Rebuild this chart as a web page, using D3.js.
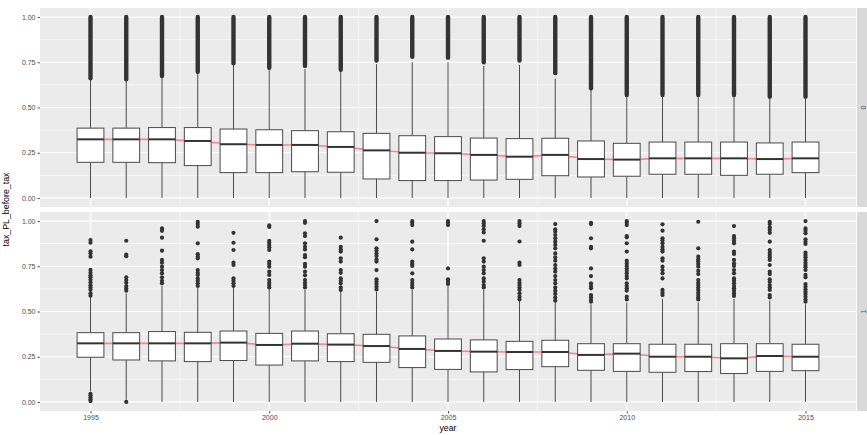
<!DOCTYPE html>
<html>
<head>
<meta charset="utf-8">
<script src="https://cdn.jsdelivr.net/npm/d3@7"></script>
<style>
  html, body { margin: 0; padding: 0; background: #fff; }
  svg { display: block; font-family: "Liberation Sans", Arial, sans-serif; }
</style>
</head>
<body>
<svg id="chart" width="867" height="435"></svg>
<script>
// ---- data -------------------------------------------------------------
const years = [1995, 1996, 1997, 1998, 1999, 2000, 2001, 2002, 2003, 2004, 2005,
               2006, 2007, 2008, 2009, 2010, 2011, 2012, 2013, 2014, 2015];
const facetLabels = ["0", "1"];
const yTicks = [0, 0.25, 0.5, 0.75, 1];
const yTickLabels = ["0.00", "0.25", "0.50", "0.75", "1.00"];
const xTicks = [1995, 2000, 2005, 2010, 2015];

// facet "0"
const q1_0  = [0.197, 0.197, 0.195, 0.179, 0.140, 0.140, 0.145, 0.142, 0.105, 0.096, 0.096,
               0.099, 0.103, 0.123, 0.116, 0.120, 0.131, 0.131, 0.125, 0.131, 0.140];
const med_0 = [0.324, 0.324, 0.324, 0.315, 0.297, 0.293, 0.293, 0.282, 0.263, 0.250, 0.247,
               0.238, 0.228, 0.238, 0.215, 0.212, 0.219, 0.219, 0.219, 0.215, 0.219];
const q3_0  = [0.386, 0.386, 0.389, 0.389, 0.381, 0.377, 0.372, 0.366, 0.357, 0.344, 0.339,
               0.331, 0.328, 0.330, 0.315, 0.302, 0.309, 0.309, 0.309, 0.304, 0.309];
const lo_0  = [0, 0, 0, 0, 0, 0, 0, 0, 0, 0, 0, 0, 0, 0, 0, 0, 0, 0, 0, 0, 0];
const hi_0  = [0.655, 0.650, 0.668, 0.692, 0.738, 0.714, 0.712, 0.700, 0.740, 0.750, 0.750,
               0.730, 0.735, 0.660, 0.600, 0.563, 0.563, 0.563, 0.563, 0.555, 0.555];
// dense outlier runs: from value up to the maximum
const outFrom_0 = [0.661, 0.656, 0.674, 0.698, 0.744, 0.720, 0.730, 0.708, 0.760, 0.780, 0.775,
                   0.750, 0.760, 0.690, 0.606, 0.569, 0.569, 0.569, 0.569, 0.560, 0.560];
const outTo_0   = [1, 1, 1, 1, 1, 1, 1, 1, 1, 1, 1, 1, 1, 1, 1, 1, 1, 1, 1, 1, 1];

// facet "1"
const q1_1  = [0.247, 0.232, 0.227, 0.223, 0.229, 0.204, 0.227, 0.223, 0.219, 0.190, 0.180,
               0.166, 0.179, 0.195, 0.175, 0.169, 0.164, 0.168, 0.157, 0.169, 0.173];
const med_1 = [0.324, 0.324, 0.324, 0.324, 0.328, 0.315, 0.322, 0.317, 0.309, 0.293, 0.282,
               0.278, 0.276, 0.276, 0.260, 0.267, 0.250, 0.250, 0.241, 0.254, 0.250];
const q3_1  = [0.383, 0.383, 0.389, 0.385, 0.392, 0.379, 0.392, 0.377, 0.374, 0.365, 0.348,
               0.343, 0.335, 0.341, 0.322, 0.322, 0.319, 0.319, 0.322, 0.322, 0.319];
const lo_1  = [0.057, 0.012, 0, 0, 0, 0, 0, 0, 0, 0, 0, 0, 0, 0, 0, 0, 0, 0, 0, 0, 0];
const hi_1  = [0.58, 0.60, 0.64, 0.63, 0.63, 0.63, 0.62, 0.61, 0.61, 0.62, 0.64,
               0.62, 0.56, 0.55, 0.54, 0.55, 0.57, 0.55, 0.57, 0.56, 0.54];
const out_1 = [
  [0.895, 0.88, 0.832, 0.82, 0.803, 0.73, 0.714, 0.70, 0.69, 0.675, 0.66, 0.645, 0.633, 0.62, 0.60, 0.587,
   0.045, 0.035, 0.025, 0.015, 0.005],
  [0.891, 0.815, 0.806, 0.689, 0.674, 0.659, 0.641, 0.628, 0.615, 0.0],
  [0.959, 0.946, 0.908, 0.836, 0.785, 0.770, 0.748, 0.729, 0.711, 0.689, 0.670, 0.656],
  [0.996, 0.983, 0.969, 0.877, 0.817, 0.803, 0.794, 0.729, 0.714, 0.702, 0.683, 0.670, 0.656, 0.641],
  [0.935, 0.880, 0.840, 0.770, 0.757, 0.683, 0.670, 0.656, 0.641],
  [0.976, 0.967, 0.891, 0.880, 0.867, 0.855, 0.840, 0.776, 0.763, 0.748, 0.720, 0.702, 0.674, 0.659, 0.646, 0.633],
  [1.0, 0.99, 0.932, 0.917, 0.877, 0.858, 0.843, 0.812, 0.800, 0.763, 0.748, 0.720, 0.700, 0.674, 0.659, 0.646, 0.633],
  [0.908, 0.858, 0.843, 0.831, 0.794, 0.776, 0.729, 0.714, 0.683, 0.670, 0.656, 0.633, 0.619],
  [1.0, 0.899, 0.849, 0.836, 0.821, 0.807, 0.788, 0.776, 0.729, 0.678, 0.665, 0.652, 0.637, 0.622],
  [1.0, 0.99, 0.978, 0.886, 0.843, 0.776, 0.763, 0.752, 0.711, 0.674, 0.659, 0.646, 0.633],
  [1.0, 0.99, 0.978, 0.738, 0.678, 0.665, 0.652],
  [1.0, 0.987, 0.972, 0.954, 0.937, 0.891, 0.794, 0.776, 0.748, 0.729, 0.711, 0.683, 0.665, 0.646, 0.633],
  [1.0, 0.987, 0.972, 0.887, 0.770, 0.757, 0.674, 0.659, 0.646, 0.633, 0.619, 0.600, 0.582, 0.567],
  [0.983, 0.954, 0.941, 0.923, 0.905, 0.886, 0.868, 0.849, 0.821, 0.800, 0.781, 0.757, 0.738, 0.720,
   0.696, 0.674, 0.656, 0.633, 0.615, 0.597, 0.578, 0.560],
  [0.99, 0.983, 0.905, 0.858, 0.849, 0.738, 0.696, 0.656, 0.641, 0.628, 0.591, 0.578, 0.563, 0.554],
  [1.0, 0.99, 0.978, 0.917, 0.910, 0.877, 0.831, 0.781, 0.766, 0.752, 0.738, 0.725, 0.711, 0.696, 0.683,
   0.656, 0.641, 0.628, 0.615, 0.582, 0.567],
  [0.982, 0.947, 0.905, 0.892, 0.877, 0.858, 0.843, 0.831, 0.794, 0.781, 0.748, 0.729, 0.711, 0.683,
   0.619, 0.604, 0.591],
  [0.996, 0.849, 0.803, 0.788, 0.776, 0.763, 0.748, 0.725, 0.707, 0.674, 0.659, 0.646, 0.633, 0.619,
   0.604, 0.591, 0.578, 0.567],
  [0.972, 0.917, 0.905, 0.891, 0.877, 0.831, 0.818, 0.785, 0.766, 0.752, 0.729, 0.711, 0.683, 0.670,
   0.656, 0.641, 0.628, 0.615, 0.600, 0.586],
  [0.996, 0.983, 0.965, 0.950, 0.935, 0.886, 0.840, 0.825, 0.812, 0.800, 0.785, 0.757, 0.720, 0.707,
   0.678, 0.665, 0.646, 0.633, 0.619, 0.591, 0.578],
  [1.0, 0.959, 0.947, 0.932, 0.899, 0.886, 0.873, 0.825, 0.812, 0.800, 0.785, 0.770, 0.757, 0.745, 0.729,
   0.702, 0.689, 0.652, 0.637, 0.622, 0.609, 0.597, 0.582, 0.567, 0.554]
];

// ---- layout -----------------------------------------------------------
const svg = d3.select("#chart");
const panelX0 = 40, panelX1 = 856;
const panels = [
  { top: 8,   bottom: 207, label: facetLabels[0] },
  { top: 212, bottom: 411, label: facetLabels[1] }
];
const stripW = 11;
const boxWidth = 0.75; // in years

const x = d3.scaleLinear()
  .domain([years[0] - boxWidth / 2 - 1.0375, years[years.length - 1] + boxWidth / 2 + 1.0375])
  .range([panelX0, panelX1]);
const minorX = d3.range(years[0] - 2.5, years[years.length - 1] + 5, 5);
const minorY = [0.125, 0.375, 0.625, 0.875];

const colBox = "#4a4a4a";
const colPt = "#333333";

function drawPanel(p, d) {
  const y = d3.scaleLinear().domain([-0.05, 1.05]).range([p.bottom, p.top]);
  const g = svg.append("g");

  // background
  g.append("rect").attr("x", panelX0).attr("y", p.top)
    .attr("width", panelX1 - panelX0).attr("height", p.bottom - p.top)
    .attr("fill", "#EBEBEB");

  // grid
  g.selectAll(".gyMinor").data(minorY).join("line")
    .attr("x1", panelX0).attr("x2", panelX1)
    .attr("y1", v => y(v)).attr("y2", v => y(v))
    .attr("stroke", "#fff").attr("stroke-width", 0.6);
  g.selectAll(".gxMinor").data(minorX.filter(v => x(v) > panelX0 && x(v) < panelX1)).join("line")
    .attr("x1", v => x(v)).attr("x2", v => x(v))
    .attr("y1", p.top).attr("y2", p.bottom)
    .attr("stroke", "#fff").attr("stroke-width", 0.6);
  g.selectAll(".gyMajor").data(yTicks).join("line")
    .attr("x1", panelX0).attr("x2", panelX1)
    .attr("y1", v => y(v)).attr("y2", v => y(v))
    .attr("stroke", "#fff").attr("stroke-width", 1.2);
  g.selectAll(".gxMajor").data(xTicks).join("line")
    .attr("x1", v => x(v)).attr("x2", v => x(v))
    .attr("y1", p.top).attr("y2", p.bottom)
    .attr("stroke", "#fff").attr("stroke-width", 1.2);

  // y axis
  const yAxis = d3.axisLeft(y).tickValues(yTicks)
    .tickFormat((v, i) => yTickLabels[i]).tickSize(2.5).tickPadding(2);
  const ya = g.append("g").attr("transform", `translate(${panelX0},0)`).call(yAxis);
  ya.select(".domain").remove();
  ya.selectAll("line").attr("stroke", "#333").attr("stroke-width", 0.8);
  ya.selectAll("text").attr("fill", "#4D4D4D").style("font-size", "7px");

  // strip
  g.append("rect").attr("x", panelX1 + 1).attr("y", p.top)
    .attr("width", stripW).attr("height", p.bottom - p.top).attr("fill", "#D9D9D9");
  g.append("text")
    .attr("transform", `translate(${panelX1 + 1 + stripW / 2 + 0.5},${(p.top + p.bottom) / 2}) rotate(-90)`)
    .attr("text-anchor", "middle").attr("dominant-baseline", "central")
    .attr("fill", "#4D4D4D").style("font-size", "7px").text(p.label);

  // median trend line (under the boxes)
  const line = d3.line().x((v, i) => x(years[i])).y(v => y(v));
  g.append("path").datum(d.med).attr("d", line)
    .attr("fill", "none").attr("stroke", "#FF5A5A").attr("stroke-opacity", 0.7)
    .attr("stroke-width", 1.6);

  const half = boxWidth / 2;
  const rows = years.map((yr, i) => ({ yr, i }));

  // whiskers
  g.selectAll(".wl").data(rows).join("line")
    .attr("x1", r => x(r.yr)).attr("x2", r => x(r.yr))
    .attr("y1", r => y(d.lo[r.i])).attr("y2", r => y(d.q1[r.i]))
    .attr("stroke", colBox).attr("stroke-width", 1);
  g.selectAll(".wh").data(rows).join("line")
    .attr("x1", r => x(r.yr)).attr("x2", r => x(r.yr))
    .attr("y1", r => y(d.q3[r.i])).attr("y2", r => y(d.hi[r.i]))
    .attr("stroke", colBox).attr("stroke-width", 1);

  // boxes
  g.selectAll(".bx").data(rows).join("rect")
    .attr("x", r => x(r.yr - half)).attr("width", r => x(r.yr + half) - x(r.yr - half))
    .attr("y", r => y(d.q3[r.i])).attr("height", r => y(d.q1[r.i]) - y(d.q3[r.i]))
    .attr("fill", "#fff").attr("stroke", colBox).attr("stroke-width", 1);
  g.selectAll(".md").data(rows).join("line")
    .attr("x1", r => x(r.yr - half)).attr("x2", r => x(r.yr + half))
    .attr("y1", r => y(d.med[r.i])).attr("y2", r => y(d.med[r.i]))
    .attr("stroke", "#333").attr("stroke-width", 2);

  // outliers
  if (d.outFrom) {
    g.selectAll(".ob").data(rows).join("line")
      .attr("x1", r => x(r.yr)).attr("x2", r => x(r.yr))
      .attr("y1", r => y(d.outFrom[r.i])).attr("y2", r => y(d.outTo[r.i]))
      .attr("stroke", colPt).attr("stroke-width", 4.4).attr("stroke-linecap", "round");
  }
  if (d.out) {
    const pts = [];
    d.out.forEach((arr, i) => arr.forEach(v => pts.push({ yr: years[i], v })));
    g.selectAll(".op").data(pts).join("circle")
      .attr("cx", q => x(q.yr)).attr("cy", q => y(q.v)).attr("r", 2.1)
      .attr("fill", colPt);
  }
  return y;
}

drawPanel(panels[0], { q1: q1_0, med: med_0, q3: q3_0, lo: lo_0, hi: hi_0,
                       outFrom: outFrom_0, outTo: outTo_0 });
drawPanel(panels[1], { q1: q1_1, med: med_1, q3: q3_1, lo: lo_1, hi: hi_1, out: out_1 });

// x axis (bottom panel only)
const xAxis = d3.axisBottom(x).tickValues(xTicks).tickFormat(d3.format("d"))
  .tickSize(2.5).tickPadding(2);
const xa = svg.append("g").attr("transform", `translate(0,${panels[1].bottom})`).call(xAxis);
xa.select(".domain").remove();
xa.selectAll("line").attr("stroke", "#333").attr("stroke-width", 0.8);
xa.selectAll("text").attr("fill", "#4D4D4D").style("font-size", "7px");

// axis titles
svg.append("text").attr("x", (panelX0 + panelX1) / 2).attr("y", 431)
  .attr("text-anchor", "middle").attr("fill", "#000").style("font-size", "8.8px").text("year");
svg.append("text")
  .attr("transform", `translate(9,${(panels[0].top + panels[1].bottom) / 2}) rotate(-90)`)
  .attr("text-anchor", "middle").attr("fill", "#000").style("font-size", "8.8px")
  .text("tax_PL_before_tax");
</script>
</body>
</html>
